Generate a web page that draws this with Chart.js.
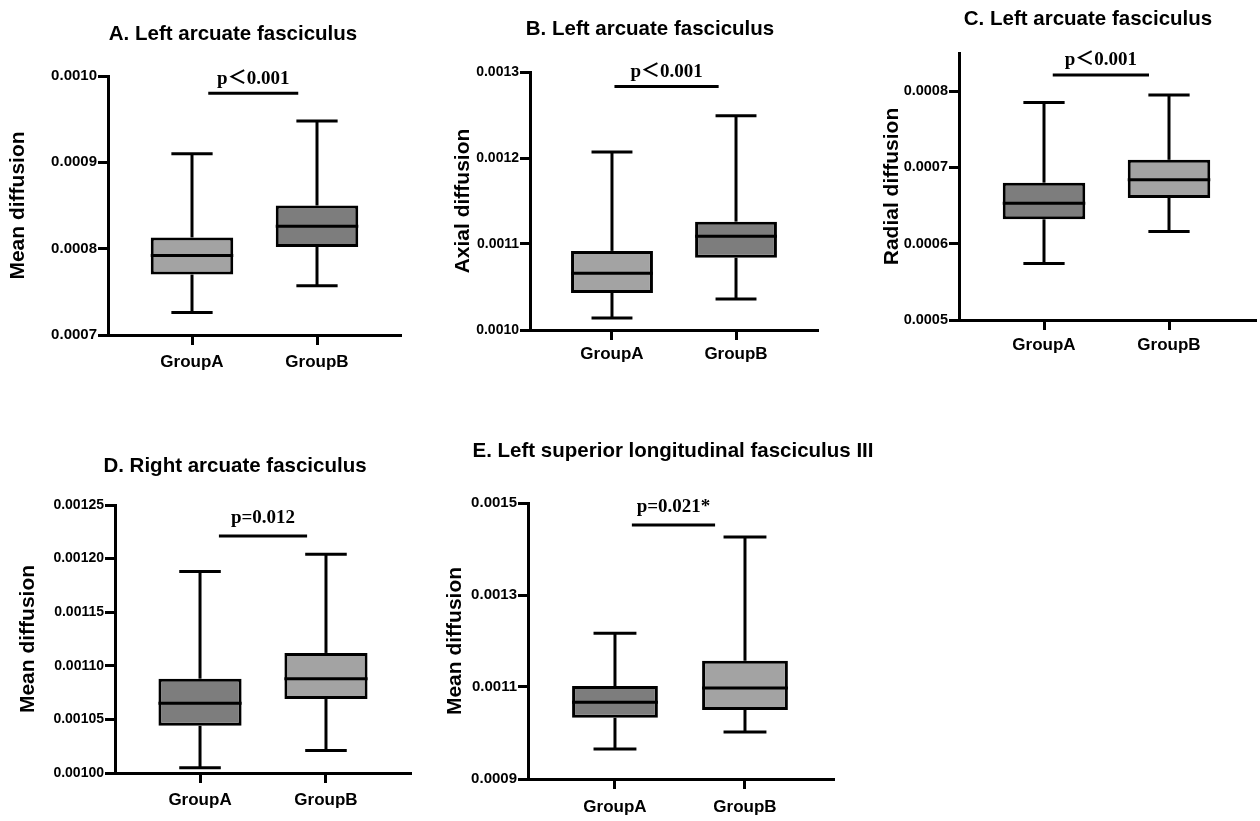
<!DOCTYPE html>
<html>
<head>
<meta charset="utf-8">
<title>Diffusion box plots</title>
<script src="https://cdn.jsdelivr.net/npm/chart.js@4.4.1/dist/chart.umd.min.js"></script>
<style>
  body { margin: 0; background: #ffffff; }
  #page { position: relative; width: 1260px; height: 821px; overflow: hidden; background: #ffffff; }
  #page canvas { position: absolute; }
</style>
</head>
<body>
<div id="page"></div>
<script>
const categories = ["GroupA", "GroupB"];

// A. Left arcuate fasciculus, mean diffusion
const lowA = [0.000726, 0.000757];
const q1A = [0.000770, 0.000802];
const medianA = [0.000792, 0.000826];
const q3A = [0.000813, 0.000850];
const highA = [0.000910, 0.000948];
const ticksA = [0.0007, 0.0008, 0.0009, 0.0010];

// B. Left arcuate fasciculus, axial diffusion
const lowB = [0.001014, 0.001036];
const q1B = [0.001043, 0.001084];
const medianB = [0.001066, 0.001109];
const q3B = [0.001092, 0.001126];
const highB = [0.001207, 0.001249];
const ticksB = [0.0010, 0.0011, 0.0012, 0.0013];

// C. Left arcuate fasciculus, radial diffusion
const lowC = [0.000574, 0.000616];
const q1C = [0.000632, 0.000660];
const medianC = [0.000653, 0.000684];
const q3C = [0.000680, 0.000710];
const highC = [0.000785, 0.000795];
const ticksC = [0.0005, 0.0006, 0.0007, 0.0008];

// D. Right arcuate fasciculus, mean diffusion
const lowD = [0.001005, 0.001021];
const q1D = [0.001044, 0.001069];
const medianD = [0.001065, 0.001088];
const q3D = [0.001088, 0.001112];
const highD = [0.001188, 0.001204];
const ticksD = [0.00100, 0.00105, 0.00110, 0.00115, 0.00120, 0.00125];

// E. Left superior longitudinal fasciculus III, mean diffusion
const lowE = [0.000965, 0.001002];
const q1E = [0.001033, 0.001050];
const medianE = [0.001067, 0.001098];
const q3E = [0.001102, 0.001157];
const highE = [0.001217, 0.001426];
const ticksE = [0.0009, 0.0011, 0.0013, 0.0015];

const LIGHT = "#a3a3a3";
const DARK = "#7d7d7d";
const SANS = '"Liberation Sans", Arial, sans-serif';
const SERIF = '"Liberation Serif", "Times New Roman", "Noto Sans CJK SC", serif';

const panels = [
  {
    title: "A. Left arcuate fasciculus", yLabel: "Mean diffusion",
    low: lowA, q1: q1A, median: medianA, q3: q3A, high: highA,
    ticks: ticksA, yMin: 0.0007, yMax: 0.0010, decimals: 4, tickFont: 15,
    pText: "p＜0.001", pLevel: 0.000980, pFrom: 1.13, pTo: 1.85, pGap: 9,
    colors: [LIGHT, DARK],
    box: { left: 0, top: 0, width: 420, height: 400 },
    area: { left: 108, top: 76, right: 400, bottom: 335 },
    xRange: [0.328, 2.664], yTitleX: 18, labelY: 362, titlePos: [233, 40]
  },
  {
    title: "B. Left arcuate fasciculus", yLabel: "Axial diffusion",
    low: lowB, q1: q1B, median: medianB, q3: q3B, high: highB,
    ticks: ticksB, yMin: 0.0010, yMax: 0.0013, decimals: 4, tickFont: 14,
    pText: "p＜0.001", pLevel: 0.001283, pFrom: 1.02, pTo: 1.86, pGap: 10,
    colors: [LIGHT, DARK],
    box: { left: 420, top: 0, width: 420, height: 400 },
    area: { left: 530, top: 72, right: 817, bottom: 330 },
    xRange: [0.339, 2.653], yTitleX: 463, labelY: 354, titlePos: [650, 35]
  },
  {
    title: "C. Left arcuate fasciculus", yLabel: "Radial diffusion",
    low: lowC, q1: q1C, median: medianC, q3: q3C, high: highC,
    ticks: ticksC, yMin: 0.0005, yMax: 0.00085, decimals: 4, tickFont: 14.5,
    pText: "p＜0.001", pLevel: 0.000821, pFrom: 1.07, pTo: 1.84, pGap: 10,
    colors: [DARK, LIGHT],
    box: { left: 840, top: 0, width: 420, height: 400 },
    area: { left: 959, top: 53, right: 1255, bottom: 320 },
    xRange: [0.32, 2.688], yTitleX: 892, labelY: 345, titlePos: [1088, 25]
  },
  {
    title: "D. Right arcuate fasciculus", yLabel: "Mean diffusion",
    low: lowD, q1: q1D, median: medianD, q3: q3D, high: highD,
    ticks: ticksD, yMin: 0.00100, yMax: 0.00125, decimals: 5, tickFont: 14,
    pText: "p=0.012", pLevel: 0.001221, pFrom: 1.15, pTo: 1.85, pGap: 13,
    colors: [DARK, LIGHT],
    box: { left: 0, top: 440, width: 420, height: 381 },
    area: { left: 115, top: 505, right: 410, bottom: 773 },
    xRange: [0.325, 2.667], yTitleX: 28, labelY: 800, titlePos: [235, 472]
  },
  {
    title: "E. Left superior longitudinal fasciculus III", yLabel: "Mean diffusion",
    low: lowE, q1: q1E, median: medianE, q3: q3E, high: highE,
    ticks: ticksE, yMin: 0.0009, yMax: 0.0015, decimals: 4, tickFont: 15,
    pText: "p=0.021*", pLevel: 0.001452, pFrom: 1.13, pTo: 1.77, pGap: 13,
    colors: [DARK, LIGHT],
    box: { left: 420, top: 440, width: 480, height: 381 },
    area: { left: 528, top: 503, right: 833, bottom: 779 },
    xRange: [0.331, 2.677], yTitleX: 455, labelY: 807, titlePos: [673, 457]
  }
];

function strokeLine(ctx, x1, y1, x2, y2) {
  ctx.beginPath();
  ctx.moveTo(x1, y1);
  ctx.lineTo(x2, y2);
  ctx.stroke();
}

function makeBoxPlotPlugin(panel) {
  return {
    id: "boxPlot",
    afterDatasetsDraw(chart) {
      const { ctx, scales: { x, y } } = chart;
      const bars = chart.getDatasetMeta(0).data;

      ctx.save();
      ctx.strokeStyle = "#000000";
      ctx.lineWidth = 3;

      categories.forEach((_, i) => {
        const cx = x.getPixelForValue(i + 1);
        const half = bars[i].width / 2;
        const cap = half / 2;
        const yHigh = y.getPixelForValue(panel.high[i]);
        const yLow = y.getPixelForValue(panel.low[i]);
        const yMedian = y.getPixelForValue(panel.median[i]);

        strokeLine(ctx, cx, y.getPixelForValue(panel.q3[i]), cx, yHigh);
        strokeLine(ctx, cx, y.getPixelForValue(panel.q1[i]), cx, yLow);
        strokeLine(ctx, cx - cap, yHigh, cx + cap, yHigh);
        strokeLine(ctx, cx - cap, yLow, cx + cap, yLow);
        strokeLine(ctx, cx - half, yMedian, cx + half, yMedian);
      });

      const barY = y.getPixelForValue(panel.pLevel);
      const fromX = x.getPixelForValue(panel.pFrom);
      const toX = x.getPixelForValue(panel.pTo);
      strokeLine(ctx, fromX, barY, toX, barY);

      ctx.fillStyle = "#000000";
      ctx.font = `bold 19px ${SERIF}`;
      ctx.textAlign = "center";
      ctx.textBaseline = "alphabetic";
      ctx.fillText(panel.pText, (fromX + toX) / 2, barY - panel.pGap);
      ctx.restore();
    },
    afterDraw(chart) {
      const { ctx } = chart;
      ctx.save();
      ctx.fillStyle = "#000000";
      ctx.font = `bold 20.5px ${SANS}`;
      ctx.textAlign = "center";
      ctx.textBaseline = "alphabetic";
      ctx.fillText(panel.title, panel.titlePos[0] - panel.box.left, panel.titlePos[1] - panel.box.top);
      ctx.restore();
    }
  };
}

function renderPanel(panel) {
  const { box, area } = panel;
  const canvas = document.createElement("canvas");
  canvas.width = box.width;
  canvas.height = box.height;
  canvas.style.left = `${box.left}px`;
  canvas.style.top = `${box.top}px`;
  document.getElementById("page").appendChild(canvas);

  const yWidth = area.left - box.left;
  const xHeight = box.top + box.height - area.bottom;
  const tickLength = 10;
  const labelFont = 17;
  const labelPadding = panel.labelY - area.bottom - tickLength - labelFont * 1.2 / 2;
  const yTitleFont = 21;

  new Chart(canvas, {
    type: "bar",
    data: {
      datasets: [
        {
          data: categories.map((_, i) => ({ x: i + 1, y: [panel.q1[i], panel.q3[i]] })),
          backgroundColor: panel.colors,
          borderColor: "#000000",
          borderWidth: 3,
          borderSkipped: false,
          barPercentage: 0.66,
          categoryPercentage: 1
        }
      ]
    },
    options: {
      responsive: false,
      animation: false,
      events: [],
      layout: {
        padding: {
          left: 0,
          top: area.top - box.top,
          right: box.left + box.width - area.right,
          bottom: 0
        }
      },
      plugins: {
        legend: { display: false },
        title: { display: false },
        tooltip: { enabled: false }
      },
      scales: {
        x: {
          type: "linear",
          min: panel.xRange[0],
          max: panel.xRange[1],
          offset: false,
          afterBuildTicks(scale) {
            scale.ticks = categories.map((_, i) => ({ value: i + 1 }));
          },
          afterFit(scale) {
            scale.height = xHeight;
          },
          ticks: {
            autoSkip: false,
            maxRotation: 0,
            padding: labelPadding,
            color: "#000000",
            font: { family: SANS, size: labelFont, weight: "bold" },
            callback: (value) => categories[value - 1] || ""
          },
          grid: {
            display: true,
            offset: false,
            drawOnChartArea: false,
            drawTicks: true,
            tickLength: tickLength,
            color: "#000000",
            lineWidth: 3
          },
          border: { display: true, color: "#000000", width: 3 }
        },
        y: {
          type: "linear",
          min: panel.yMin,
          max: panel.yMax,
          afterBuildTicks(scale) {
            scale.ticks = panel.ticks.map((value) => ({ value }));
          },
          afterFit(scale) {
            scale.width = yWidth;
          },
          ticks: {
            padding: 1,
            color: "#000000",
            font: { family: SANS, size: panel.tickFont, weight: "bold" },
            callback: (value) => Number(value).toFixed(panel.decimals)
          },
          grid: {
            display: true,
            drawOnChartArea: false,
            drawTicks: true,
            tickLength: 10,
            color: "#000000",
            lineWidth: 3
          },
          border: { display: true, color: "#000000", width: 3 },
          title: {
            display: true,
            text: panel.yLabel,
            color: "#000000",
            font: { family: SANS, size: yTitleFont, weight: "bold" },
            padding: { top: panel.yTitleX - box.left - yTitleFont * 1.2 / 2, bottom: 0 }
          }
        }
      }
    },
    plugins: [makeBoxPlotPlugin(panel)]
  });
}

document.addEventListener("DOMContentLoaded", () => {
  panels.forEach(renderPanel);
});
</script>
</body>
</html>
